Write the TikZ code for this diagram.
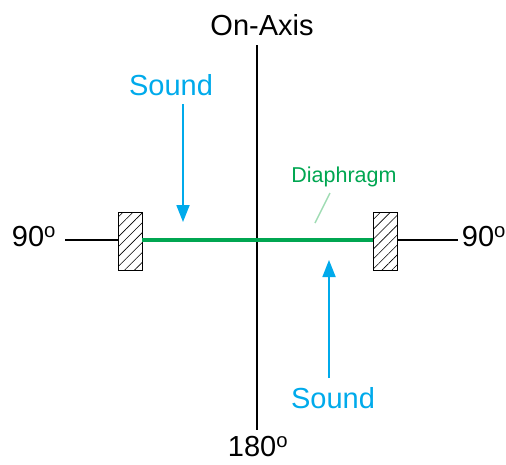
\documentclass[tikz,border=0pt]{standalone}
\usepackage{fontspec}
\setmainfont{Liberation Sans}
\usetikzlibrary{positioning, calc, arrows.meta, patterns.meta}

\definecolor{soundblue}{RGB}{0,170,235}
\definecolor{diagreen}{RGB}{0,166,81}
\definecolor{leadgreen}{RGB}{160,220,180}

\begin{document}
\begin{tikzpicture}[
            x=1pt, y=-1pt,
            >=Stealth,
            % Styles
            axis/.style={line width=1.6pt, black},
            label/.style={font=\fontsize{29}{32}\selectfont, inner sep=0pt},
            sound/.style={label, text=soundblue},
            soundarrow/.style={line width=1.8pt, soundblue, -{Triangle[width=13pt, length=17pt]}},
            clamp/.style={
              rectangle, draw, line width=0.9pt, minimum width=24pt, minimum height=58pt,
              inner sep=0pt, pattern={Lines[angle=45, distance=7pt, line width=0.6pt]}
            }
          ]
          \useasboundingbox (0,0) rectangle (506,464);
          % 1. Axis labels
          \node[label] (onaxis) at (262,25) {On-Axis};
          \node[label] (rear) at (258,447) {180$^{\mathrm{o}}$};
          \node[label] (left) at (34,237) {90$^{\mathrm{o}}$};
          \node[label] (right) at (484,237) {90$^{\mathrm{o}}$};
          \coordinate (top) at (257,45);
          \coordinate (bottom) at (257,430);
          \coordinate (lend) at (65,240);
          \coordinate (rend) at (458,240);
          % 2. Clamps and diaphragm
          \node[clamp] (lclamp) at (130,241) {};
          \node[clamp] (rclamp) at (385,241) {};
          \node[font=\fontsize{21.5}{24}\selectfont, text=diagreen] (diaph) at (344,177) {Diaphragm};
          \coordinate (diaphpt) at (315,223);
          % 3. Sound sources
          \node[sound] (sound1) at (171,85) {Sound};
          \node[sound] (sound2) at (333,398) {Sound};
          \coordinate (hit1) at (183,222);
          \coordinate (hit2) at (329,260);
          % --- Connections ---
          \draw[axis] (top) -- (bottom);
          \draw[axis] (lend) -- (lclamp.west |- lend);
          \draw[axis] (rclamp.east |- rend) -- (rend);
          \draw[line width=4.5pt, diagreen] (lclamp.east |- lend) -- (rclamp.west |- lend);
          \draw[line width=1.5pt, leadgreen] (330,193) -- (diaphpt);
          \draw[soundarrow] (183,104) -- (hit1);
          \draw[soundarrow] (329,378) -- (hit2);
        \end{tikzpicture}
\end{document}
